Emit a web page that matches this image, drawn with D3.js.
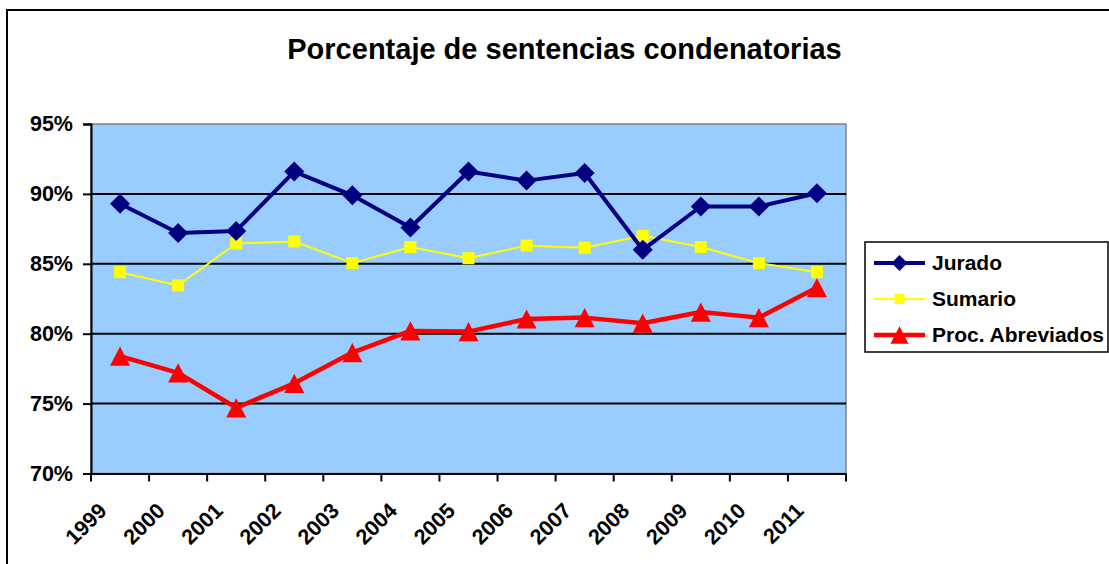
<!DOCTYPE html>
<html>
<head>
<meta charset="utf-8">
<script src="https://cdn.jsdelivr.net/npm/d3@7"></script>
<style>
html,body{margin:0;padding:0;background:#fff;}
svg{display:block;}
text{font-family:"Liberation Sans",Arial,sans-serif;font-weight:bold;fill:#000;}
</style>
</head>
<body>
<svg id="chart" width="1109" height="564"></svg>
<script>
const years = ["1999","2000","2001","2002","2003","2004","2005","2006","2007","2008","2009","2010","2011"];
const jurado = [89.3, 87.2, 87.35, 91.6, 89.9, 87.6, 91.6, 90.95, 91.5, 86.0, 89.1, 89.1, 90.05];
const sumario = [84.4, 83.45, 86.45, 86.6, 85.05, 86.2, 85.4, 86.3, 86.15, 87.0, 86.2, 85.05, 84.4];
const abreviados = [78.4, 77.2, 74.7, 76.45, 78.65, 80.2, 80.15, 81.05, 81.15, 80.75, 81.55, 81.15, 83.3];
const yTicks = [70, 75, 80, 85, 90, 95];
const seriesNames = ["Jurado", "Sumario", "Proc. Abreviados"];
const title = "Porcentaje de sentencias condenatorias";

const svg = d3.select("#chart");
const plot = {left: 91, right: 846, top: 124, bottom: 473.5};

// outer chart border
svg.append("rect").attr("x", 7).attr("y", 10).attr("width", 1300).attr("height", 800)
  .attr("fill", "#fff").attr("stroke", "#000").attr("stroke-width", 2);

svg.append("text").attr("x", 564.5).attr("y", 59).attr("text-anchor", "middle")
  .style("font-size", "29px").text(title);

const x = d3.scaleBand().domain(years).range([plot.left, plot.right]).padding(0);
const y = d3.scaleLinear().domain([70, 95]).range([plot.bottom, plot.top]);

// plot area background
svg.append("rect").attr("x", plot.left).attr("y", plot.top)
  .attr("width", plot.right - plot.left).attr("height", plot.bottom - plot.top)
  .attr("fill", "#99CCFF").attr("stroke", "#808080").attr("stroke-width", 1.5);

// gridlines
svg.append("g").selectAll("line").data(yTicks.filter(d => d > 70 && d < 95)).join("line")
  .attr("x1", plot.left).attr("x2", plot.right)
  .attr("y1", d => y(d)).attr("y2", d => y(d))
  .attr("stroke", "#000").attr("stroke-width", 2);

// y axis
const yAxis = svg.append("g").attr("transform", `translate(${plot.left},0)`)
  .call(d3.axisLeft(y).tickValues(yTicks).tickFormat(d => d + "%").tickSize(8).tickPadding(10));
yAxis.select(".domain").attr("stroke", "#000").attr("stroke-width", 2);
yAxis.selectAll(".tick line").attr("stroke", "#000").attr("stroke-width", 2);
yAxis.selectAll(".tick text").style("font-size", "21.5px").attr("font-family", null).attr("fill", "#000");

// x axis
const xAxis = svg.append("g").attr("transform", `translate(0,${plot.bottom})`)
  .call(d3.axisBottom(x).tickSize(0).tickFormat(""));
xAxis.select(".domain").attr("stroke", "#000").attr("stroke-width", 2);
xAxis.selectAll(".tick").remove();
const bounds = years.map(d => x(d)).concat([x(years[years.length - 1]) + x.bandwidth()]);
xAxis.selectAll("line.tk").data(bounds).join("line").attr("class", "tk")
  .attr("x1", d => d).attr("x2", d => d).attr("y1", 0).attr("y2", 8)
  .attr("stroke", "#000").attr("stroke-width", 2);
svg.append("g").selectAll("text").data(years).join("text")
  .attr("text-anchor", "end")
  .attr("transform", d => `translate(${x(d) + x.bandwidth() / 2 - 12},512) rotate(-45)`)
  .style("font-size", "21.5px").text(d => d);

const cx = d => x(d) + x.bandwidth() / 2;

const diamond = s => `M0,${-s/2}L${s/2},0L0,${s/2}L${-s/2},0Z`;
const square = s => `M${-s/2},${-s/2}h${s}v${s}h${-s}Z`;
const triangle = s => `M0,${-s*0.48}L${s/2},${s*0.48}L${-s/2},${s*0.48}Z`;

const series = [
  {name: seriesNames[0], values: jurado, color: "#000080", width: 4, marker: diamond, size: 20, lsize: 16},
  {name: seriesNames[1], values: sumario, color: "#FFFF00", width: 2, marker: square, size: 12, lsize: 10},
  {name: seriesNames[2], values: abreviados, color: "#FF0000", width: 4.5, marker: triangle, size: 20, lsize: 18}
];

const line = d3.line().x(d => cx(d.year)).y(d => y(d.v));

[series[2], series[1], series[0]].forEach(s => {
  const pts = years.map((yr, i) => ({year: yr, v: s.values[i]}));
  svg.append("path").datum(pts).attr("d", line).attr("fill", "none")
    .attr("stroke", s.color).attr("stroke-width", s.width).attr("stroke-linejoin", "round");
  svg.append("g").selectAll("path").data(pts).join("path")
    .attr("transform", d => `translate(${cx(d.year)},${y(d.v)})`)
    .attr("d", s.marker(s.size)).attr("fill", s.color);
});

// legend
const lg = svg.append("g");
lg.append("rect").attr("x", 865).attr("y", 242).attr("width", 243).attr("height", 110)
  .attr("fill", "#fff").attr("stroke", "#000").attr("stroke-width", 1.5);
series.forEach((s, i) => {
  const ly = 263 + i * 36;
  lg.append("line").attr("x1", 874).attr("x2", 925).attr("y1", ly).attr("y2", ly)
    .attr("stroke", s.color).attr("stroke-width", s.width);
  lg.append("path").attr("transform", `translate(899.5,${ly})`).attr("d", s.marker(s.lsize)).attr("fill", s.color);
  lg.append("text").attr("x", 932).attr("y", ly).attr("dy", "0.35em")
    .style("font-size", "21px").text(s.name);
});
</script>
</body>
</html>
